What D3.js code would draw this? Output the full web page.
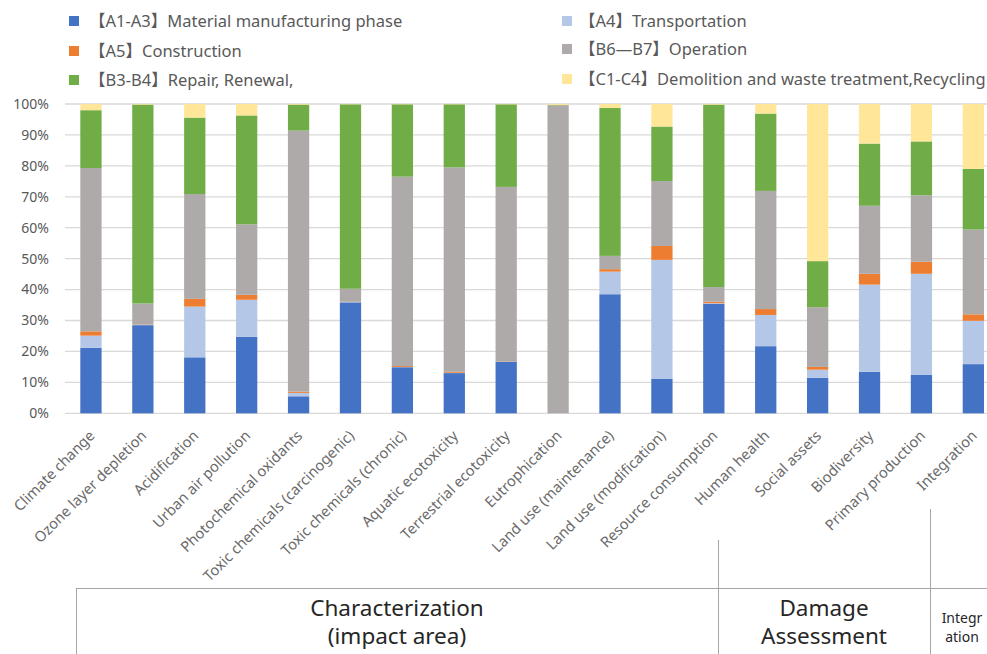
<!DOCTYPE html>
<html><head><meta charset="utf-8">
<script src="https://cdn.jsdelivr.net/npm/d3@7"></script>
<style>
html,body{margin:0;padding:0;background:#fff;}
svg{display:block;font-family:"Noto Sans","Noto Sans CJK JP",sans-serif;}
</style></head>
<body><svg id="c" width="987" height="654"></svg>
<script>
const categories = ["Climate change","Ozone layer depletion","Acidification","Urban air pollution","Photochemical oxidants","Toxic chemicals (carcinogenic)","Toxic chemicals (chronic)","Aquatic ecotoxicity","Terrestrial ecotoxicity","Eutrophication","Land use (maintenance)","Land use (modification)","Resource consumption","Human health","Social assets","Biodiversity","Primary production","Integration"];
const seriesNames = ["【A1-A3】Material manufacturing phase","【A4】Transportation","【A5】Construction","【B6\u2014B7】Operation","【B3-B4】Repair, Renewal,","【C1-C4】Demolition and waste treatment,Recycling"];
const a1a3 = [21.2,28.5,18.1,24.7,5.5,35.9,14.9,13.0,16.7,0.0,38.5,11.1,35.4,21.7,11.5,13.4,12.5,15.9];
const a4   = [3.9,0.1,16.4,12.0,1.1,0.1,0.1,0.1,0.1,0.0,7.3,38.5,0.2,10.1,2.6,28.2,32.6,14.0];
const a5   = [1.4,0.1,2.5,1.6,0.4,0.1,0.3,0.3,0.1,0.0,0.8,4.5,0.5,1.9,0.9,3.5,3.9,2.1];
const b6b7 = [52.8,6.8,33.9,22.8,84.4,4.2,61.2,66.1,56.3,99.6,4.3,21.0,4.7,38.2,19.3,22.0,21.5,27.4];
const b3b4 = [18.7,64.3,24.7,35.2,8.4,59.7,23.4,20.4,26.7,0.1,47.8,17.6,59.0,25.0,14.9,20.1,17.4,19.6];
const c1c4 = [2.0,0.2,4.4,3.7,0.2,0.1,0.1,0.1,0.1,0.3,1.3,7.3,0.2,3.1,50.8,12.8,12.1,21.0];
const yTicks = [0,10,20,30,40,50,60,70,80,90,100];
const groupLabels = [["Characterization","(impact area)"],["Damage","Assessment"],["Integr","ation"]];
const colors = ["#4472C4","#B4C7E7","#ED7D31","#AEAAAA","#70AD47","#FFE699"];

const seriesData = [a1a3,a4,a5,b6b7,b3b4,c1c4];
const rows = categories.map((c,i)=>{const r={cat:c}; seriesData.forEach((s,k)=>r["s"+k]=s[i]); return r;});
const keys = seriesData.map((_,k)=>"s"+k);
const stack = d3.stack().keys(keys).offset(d3.stackOffsetExpand)(rows);

const svg = d3.select("#c");
const x = d3.scaleBand().domain(categories).range([65,999.3]).paddingInner(0.59).paddingOuter(0.295);
const y = d3.scaleLinear().domain([0,1]).range([413.3,104]);

// grid
svg.append("g").selectAll("line").data(yTicks).join("line")
  .attr("x1",65).attr("x2",987)
  .attr("y1",d=>y(d/100)).attr("y2",d=>y(d/100))
  .attr("stroke","#d9d9d9").attr("stroke-width",1.3);

// y labels
svg.append("g").selectAll("text").data(yTicks).join("text")
  .attr("x",49).attr("y",d=>y(d/100)).attr("dy","0.35em")
  .attr("text-anchor","end").attr("font-size",14).attr("fill","#595959")
  .text(d=>d+"%");

// bars
svg.append("g").selectAll("g").data(stack).join("g")
  .attr("fill",(d,i)=>colors[i])
  .selectAll("rect").data(d=>d).join("rect")
  .attr("x",d=>x(d.data.cat)).attr("width",x.bandwidth())
  .attr("y",d=>y(d[1])).attr("height",d=>Math.max(0,y(d[0])-y(d[1])));

// x labels
svg.append("g").selectAll("text").data(categories).join("text")
  .attr("text-anchor","end").attr("font-size",14.7).attr("fill","#6a6a6a")
  .attr("dy","0.35em")
  .attr("transform",d=>`translate(${x(d)+x.bandwidth()/2+1},433) rotate(-45)`)
  .text(d=>d);

// legend
const legPos = [[69,21],[562,21],[69,51],[562,49],[69,80],[562,79]];
const lg = svg.append("g").selectAll("g").data(seriesNames).join("g")
  .attr("transform",(d,i)=>`translate(${legPos[i][0]},${legPos[i][1]})`);
lg.append("rect").attr("x",0).attr("y",-5).attr("width",10).attr("height",10).attr("fill",(d,i)=>colors[i]);
lg.append("text").attr("x",(d,i)=>i%2===0?20:17).attr("dy","0.35em").attr("font-size",16.5).attr("fill","#595959").text(d=>d);

// group boxes
const lc = "#a6a6a6";
const gl = svg.append("g").attr("stroke",lc).attr("stroke-width",1);
gl.append("line").attr("x1",76).attr("x2",987).attr("y1",588.5).attr("y2",588.5);
gl.append("line").attr("x1",76.5).attr("x2",76.5).attr("y1",588).attr("y2",654);
gl.append("line").attr("x1",718.5).attr("x2",718.5).attr("y1",540).attr("y2",654);
gl.append("line").attr("x1",930.5).attr("x2",930.5).attr("y1",509).attr("y2",654);

const gpos = [[397,22.5],[824,22.5],[962,14]];
groupLabels.forEach((lines,i)=>{
  const t = svg.append("text").attr("text-anchor","middle").attr("font-size",gpos[i][1]).attr("fill","#262626");
  lines.forEach((l,j)=>{
    t.append("tspan").attr("x",gpos[i][0]).attr("y",(i<2?608:618)+j*(i<2?28.5:19)).attr("dy","0.35em").text(l);
  });
});
</script></body></html>
